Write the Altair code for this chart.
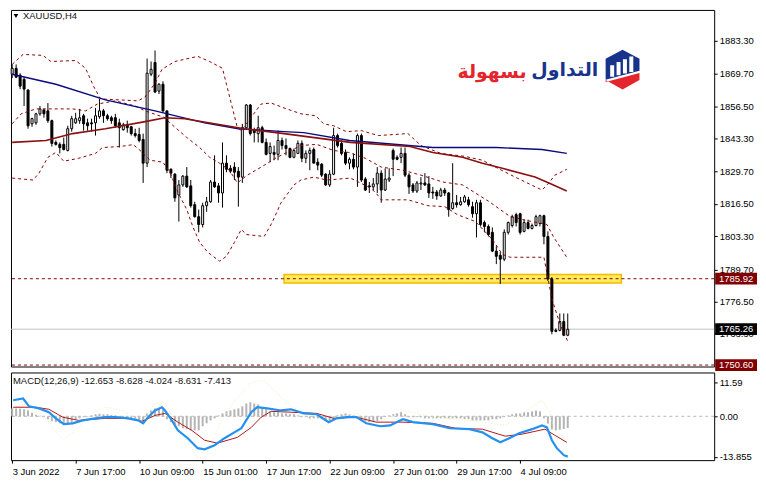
import altair as alt
import pandas as pd

# ---------------- price candles (XAUUSD H4) ----------------
opens = [1869.6, 1872.0, 1869.2, 1867.5, 1863.1, 1849.3, 1849.7, 1853.4, 1855.0, 1854.6,
         1850.6, 1841.7, 1840.9, 1840.9, 1838.4, 1847.3, 1849.7, 1850.6, 1852.6, 1849.7,
         1849.7, 1849.7, 1852.2, 1854.6, 1852.6, 1851.8, 1851.8, 1849.7, 1846.9, 1848.9,
         1848.1, 1845.3, 1844.9, 1842.9, 1833.2, 1869.6, 1874.4, 1862.7, 1865.5, 1854.6,
         1830.7, 1828.7, 1820.2, 1824.3, 1827.9, 1823.9, 1816.2, 1811.3, 1808.1, 1815.8,
         1817.4, 1825.5, 1823.9, 1821.0, 1833.2, 1831.1, 1831.6, 1829.9, 1827.5, 1847.7,
         1857.0, 1846.9, 1845.3, 1847.7, 1841.7, 1837.2, 1837.6, 1836.8, 1842.5, 1840.4,
         1839.2, 1835.6, 1837.2, 1841.3, 1835.2, 1837.2, 1838.8, 1833.6, 1832.8, 1828.7,
         1824.3, 1828.7, 1844.5, 1841.3, 1837.6, 1833.2, 1834.8, 1831.6, 1844.5, 1826.7,
         1823.9, 1823.5, 1824.7, 1829.1, 1822.2, 1826.3, 1838.4, 1835.6, 1835.6, 1837.2,
         1828.3, 1824.3, 1821.8, 1824.7, 1825.1, 1824.7, 1821.4, 1821.4, 1819.8, 1822.2,
         1821.0, 1814.6, 1817.0, 1816.2, 1817.4, 1818.2, 1815.4, 1812.5, 1817.0, 1808.9,
         1807.3, 1804.9, 1797.2, 1795.5, 1793.9, 1804.9, 1807.7, 1812.1, 1812.5, 1805.3,
         1808.9, 1806.5, 1807.7, 1808.5, 1811.7, 1803.2, 1785.8, 1764.8, 1764.8, 1768.4,
         1762.8]
highs = [1873.6, 1873.6, 1870.0, 1868.4, 1863.5, 1851.8, 1853.8, 1856.6, 1855.4, 1857.8,
         1851.0, 1842.5, 1841.7, 1843.7, 1848.5, 1852.6, 1853.8, 1855.4, 1853.4, 1851.4,
         1851.4, 1855.8, 1859.5, 1855.4, 1853.4, 1852.6, 1853.4, 1851.4, 1849.7, 1850.6,
         1848.5, 1847.3, 1847.7, 1845.3, 1876.0, 1874.8, 1879.3, 1865.9, 1866.7, 1854.6,
         1831.1, 1829.1, 1826.3, 1828.3, 1831.6, 1826.3, 1817.4, 1814.2, 1817.0, 1819.4,
         1826.3, 1836.4, 1825.1, 1841.7, 1836.4, 1832.4, 1833.6, 1831.6, 1849.3, 1857.4,
         1857.4, 1847.7, 1852.6, 1848.5, 1843.3, 1841.7, 1840.4, 1846.5, 1843.7, 1843.3,
         1839.6, 1839.2, 1842.5, 1842.5, 1838.4, 1839.6, 1839.6, 1835.2, 1833.2, 1829.1,
         1830.3, 1847.7, 1845.3, 1842.5, 1838.8, 1835.6, 1837.2, 1845.3, 1845.3, 1827.5,
         1825.5, 1827.1, 1831.6, 1830.3, 1831.1, 1831.1, 1839.2, 1836.4, 1839.6, 1839.6,
         1829.1, 1825.1, 1825.9, 1827.5, 1829.1, 1827.9, 1823.5, 1822.2, 1823.1, 1823.1,
         1821.4, 1833.2, 1820.2, 1819.4, 1820.2, 1819.4, 1817.4, 1818.2, 1818.2, 1809.7,
         1808.1, 1806.9, 1799.2, 1796.8, 1806.1, 1809.3, 1812.1, 1812.9, 1812.9, 1810.1,
         1810.1, 1808.5, 1812.1, 1812.1, 1812.1, 1805.3, 1786.6, 1765.6, 1771.7, 1771.7,
         1771.7]
lows = [1868.0, 1868.0, 1863.5, 1856.6, 1847.3, 1848.1, 1848.9, 1852.6, 1851.8, 1849.7,
        1840.0, 1840.4, 1837.2, 1838.4, 1838.0, 1846.1, 1849.3, 1849.3, 1846.5, 1846.5,
        1846.1, 1844.5, 1851.4, 1849.7, 1850.6, 1849.3, 1847.7, 1839.6, 1846.5, 1845.7,
        1844.5, 1843.7, 1841.7, 1825.1, 1831.6, 1868.8, 1861.9, 1861.5, 1853.8, 1829.1,
        1827.1, 1817.4, 1809.3, 1823.5, 1823.1, 1815.0, 1810.9, 1804.9, 1806.9, 1813.3,
        1817.0, 1823.1, 1817.0, 1815.0, 1829.5, 1829.1, 1826.3, 1815.4, 1825.1, 1847.3,
        1844.5, 1841.7, 1841.7, 1841.3, 1836.4, 1833.6, 1834.4, 1834.4, 1838.8, 1836.4,
        1835.2, 1835.2, 1837.2, 1833.6, 1833.2, 1830.3, 1833.2, 1830.3, 1827.5, 1823.9,
        1823.5, 1828.3, 1839.6, 1836.4, 1832.4, 1830.7, 1830.7, 1823.5, 1825.5, 1821.8,
        1821.0, 1822.2, 1821.0, 1817.0, 1821.8, 1825.5, 1827.9, 1834.4, 1833.2, 1827.5,
        1820.6, 1821.0, 1821.0, 1822.2, 1823.9, 1819.0, 1818.6, 1818.2, 1819.4, 1819.8,
        1811.3, 1814.2, 1815.0, 1815.8, 1817.0, 1815.4, 1810.9, 1802.8, 1807.3, 1804.9,
        1803.2, 1796.8, 1791.9, 1783.8, 1793.1, 1804.0, 1806.9, 1807.3, 1804.0, 1804.9,
        1806.1, 1806.1, 1807.3, 1807.3, 1800.0, 1785.0, 1763.2, 1764.0, 1764.4, 1762.4,
        1762.4]
closes = [1872.0, 1868.4, 1864.7, 1863.5, 1848.5, 1851.4, 1853.4, 1855.4, 1853.4, 1850.6,
          1841.3, 1840.9, 1839.6, 1838.8, 1847.3, 1851.4, 1851.4, 1851.8, 1849.3, 1848.5,
          1849.3, 1852.6, 1854.6, 1852.6, 1851.4, 1850.6, 1848.5, 1847.7, 1848.9, 1847.7,
          1845.3, 1844.5, 1842.5, 1833.2, 1870.0, 1871.6, 1862.3, 1865.5, 1854.6, 1830.3,
          1829.1, 1819.0, 1824.3, 1827.9, 1823.5, 1815.8, 1811.3, 1808.1, 1815.8, 1817.4,
          1825.5, 1823.5, 1821.0, 1833.2, 1830.7, 1829.9, 1829.5, 1827.5, 1847.7, 1857.0,
          1845.3, 1845.7, 1847.7, 1841.7, 1836.8, 1840.0, 1836.8, 1842.5, 1840.4, 1839.2,
          1835.6, 1838.4, 1841.3, 1835.2, 1837.2, 1838.4, 1833.2, 1832.4, 1828.3, 1824.3,
          1828.7, 1844.5, 1840.4, 1837.2, 1833.2, 1834.8, 1831.6, 1844.5, 1826.3, 1822.2,
          1823.5, 1824.7, 1829.1, 1822.2, 1826.7, 1827.1, 1834.8, 1834.8, 1837.2, 1828.3,
          1823.5, 1821.8, 1825.1, 1825.1, 1824.3, 1821.0, 1821.0, 1819.8, 1822.2, 1821.0,
          1814.2, 1817.0, 1816.2, 1817.4, 1819.4, 1816.2, 1812.5, 1817.0, 1808.1, 1807.3,
          1804.0, 1797.2, 1795.1, 1793.9, 1804.9, 1808.9, 1811.3, 1808.9, 1804.9, 1808.9,
          1806.5, 1807.7, 1811.3, 1811.7, 1803.2, 1785.8, 1764.4, 1764.4, 1768.4, 1762.8,
          1765.26]

# ---------------- moving averages and Bollinger bands ----------------
blue_ma_i = [0, 11, 23.5, 36, 48.5, 57, 68.5, 73.5, 85, 106, 122, 133.5, 139.75]
blue_ma_p = [1869.6, 1865.5, 1859.1, 1854.6, 1849.7, 1847.3, 1846.1, 1845.7, 1842.5,
             1839.6, 1839.6, 1838.8, 1837.2]
red_ma_i = [0, 8.5, 15.25, 23.5, 33.5, 38.5, 43.5, 51, 58.5, 68.5, 85.25, 100.25, 106,
            113.5, 118.5, 123.5, 131.75, 135.25, 139.75]
red_ma_p = [1841.7, 1842.5, 1845.3, 1847.3, 1850.2, 1851.8, 1851.4, 1849.3, 1847.3, 1845.3,
            1841.7, 1840.0, 1837.6, 1835.6, 1833.2, 1831.1, 1827.5, 1825.1, 1821.8]
bb_up_i = [0, 2.75, 7.75, 9.75, 16, 18.5, 20.5, 22.25, 31.75, 33.5, 36, 37.75, 41, 46.75,
           49.75, 53, 54, 55.5, 56.75, 57.75, 60.5, 62.75, 65.25, 68.5, 72.75, 76.5, 78.5,
           81, 84.25, 88, 92.25, 99.75, 103, 108, 114, 118.5, 121.75, 126.75, 133.5,
           135.25, 136.75, 139.75]
bb_up_p = [1873.6, 1877.7, 1877.3, 1874.8, 1875.2, 1872.0, 1864.7, 1859.5, 1858.7, 1860.3,
           1865.9, 1871.6, 1874.8, 1876.9, 1874.8, 1872.0, 1865.5, 1855.8, 1847.7, 1846.5,
           1852.6, 1857.4, 1857.8, 1855.8, 1853.4, 1852.6, 1849.3, 1848.5, 1846.1, 1846.5,
           1844.5, 1845.3, 1840.4, 1837.2, 1836.0, 1834.4, 1831.6, 1827.5, 1822.2, 1825.1,
           1828.3, 1830.7]
bb_mid_i = [0, 2.25, 6, 15.25, 18.5, 21.5, 26, 31, 33.5, 38.5, 39.75, 44, 47.25, 49.75,
            52.25, 54.75, 56.75, 59.25, 62.75, 66.75, 69.25, 72.75, 76.75, 81, 84.75, 89,
            93, 98.5, 103, 108.5, 113.5, 120.25, 125.5, 131, 134.75, 136.5, 139.75]
bb_mid_p = [1849.3, 1853.4, 1855.4, 1855.4, 1854.6, 1857.4, 1858.7, 1856.6, 1854.6, 1851.8,
            1849.7, 1843.7, 1839.6, 1835.6, 1833.2, 1830.3, 1825.1, 1828.3, 1831.6, 1835.6,
            1837.6, 1840.4, 1840.9, 1838.4, 1837.6, 1835.2, 1831.6, 1830.3, 1828.3, 1825.5,
            1824.3, 1817.4, 1811.3, 1809.3, 1808.1, 1802.8, 1794.7]
bb_lo_i = [0, 5.25, 6.75, 9, 11, 13, 16.75, 21, 22.75, 27.25, 30.5, 32.25, 34.75, 38,
           39.75, 41.75, 44, 45.5, 47.25, 49.25, 52.25, 54, 56, 57.75, 59, 63.5, 65.5,
           67.75, 71, 72.75, 76, 79.25, 85.25, 89.75, 91.5, 93, 99.75, 104.75, 109, 112.25,
           116.75, 121, 123.5, 125.5, 134, 136, 138, 140]
bb_lo_p = [1827.1, 1826.3, 1829.1, 1835.6, 1837.6, 1834.0, 1835.2, 1837.2, 1839.6, 1840.0,
           1840.8, 1838.4, 1834.4, 1833.6, 1829.5, 1821.4, 1814.2, 1807.3, 1800.8, 1796.8,
           1793.1, 1795.1, 1800.8, 1806.1, 1804.0, 1803.2, 1808.9, 1817.0, 1824.3, 1826.3,
           1827.5, 1826.3, 1827.1, 1823.5, 1821.4, 1818.2, 1818.2, 1815.8, 1815.4, 1812.1,
           1809.3, 1802.0, 1795.9, 1794.7, 1794.7, 1777.7, 1767.6, 1760.3]

# ---------------- levels ----------------
level_values = [1785.92, 1750.60]
current_price = [1765.26]
zone_i = [68.5, 153.5]
zone_p = [1784.2, 1787.6]
price_ticks = [1883.30, 1869.70, 1856.50, 1843.30, 1829.70, 1816.50, 1803.30, 1789.70,
               1776.50, 1763.30]
tag_values = [1785.92, 1765.26, 1750.60]
tag_text = ["1785.92", "1765.26", "1750.60"]
tag_colors = ["#800000", "#000000", "#800000"]

# ---------------- MACD panel ----------------
macd_i = [0.25, 2.75, 4.25, 6.75, 9.25, 11, 13, 15.25, 17.75, 21, 23.5, 26, 29.25, 31.75,
          33, 34.25, 36, 37.75, 38.5, 40.25, 41.75, 44.25, 46.75, 48.5, 51, 53.5, 56,
          57.75, 58.5, 60.25, 61.75, 64.25, 67.75, 70.25, 73.5, 76.75, 79.75, 81.75, 84.25,
          86.75, 89.25, 92.75, 95.25, 97.75, 98.5, 101, 106, 110.25, 115.25, 118.5, 121,
          123, 125.25, 127.75, 131, 133.5, 134.75, 136, 137.25, 139, 140]
macd_v = [5.5, 6.1, 3.4, 2.7, 1.4, -0.7, -2.7, -2.4, -1.4, -0.7, -0.3, -0.3, -0.7, -1.4,
          -2.4, -0.3, 2.0, 3.1, 2.0, -1.4, -4.8, -7.5, -10.9, -11.3, -9.9, -7.5, -5.5, -4.1,
          -2.4, 1.4, 3.1, 2.7, 2.0, 2.4, 1.0, 0.7, -2.0, -0.7, -0.3, -0.3, -2.4, -3.4, -3.1,
          -1.4, -1.0, -2.0, -2.7, -4.1, -4.4, -5.5, -7.5, -8.9, -7.5, -5.8, -4.4, -3.1,
          -3.8, -8.2, -10.9, -13.3, -13.8]
signal_i = [0.25, 6, 9.25, 12.75, 16.75, 23.5, 29.25, 32.75, 36, 38.5, 41.75, 45.25, 48.5,
            51.75, 56.75, 60.25, 62.75, 65.25, 70.25, 76.75, 81, 86.75, 91.75, 96.75, 98.5,
            106, 111.75, 118.5, 124.25, 128.5, 134.25, 136.75, 139.75]
signal_v = [3.1, 3.1, 2.4, -0.3, -1.4, -0.7, -0.7, -1.7, 0.3, 1.0, -2.0, -4.8, -8.2, -9.2,
            -7.2, -3.8, -0.3, 1.7, 1.4, 1.0, -0.7, -0.3, -2.0, -2.0, -2.0, -2.4, -4.1, -4.4,
            -6.8, -6.1, -4.4, -6.5, -8.9]
hist_v = [2.7, 2.7, 2.6, 2.4, 2.0, 1.2, 0.5, 0.2,
          -0.3, -1.0, -1.7, -2.0, -2.4, -2.7, -2.7, -2.4,
          -1.0, -0.7, -0.3, -0.2,
          0.3, 0.7, 0.9, 0.7, 0.7, 0.5, 0.3,
          -0.3, -0.7, -1.0, -1.0, -1.4, -1.7, -2.0,
          1.0, 2.0, 2.7, 2.7, 2.4,
          -1.0, -2.0, -2.7, -3.4, -4.1, -4.4, -4.8, -4.8, -4.8,
          -3.4, -2.4, -1.4, -0.7, 0.3, 1.0,
          1.7, 2.0, 2.4, 2.7, 3.4, 4.4, 4.8,
          4.4, 4.1, 3.1, 2.4,
          1.7, 1.4, 1.4, 1.0, 1.0, 0.7, 0.7, 0.3,
          -0.3, -0.3, -0.7, -0.7, -0.7, -1.0,
          -1.7, -2.0, -1.4,
          0.3, 0.7, 1.0, 0.7, 0.3,
          -0.7, -1.4, -1.7, -2.0, -2.0, -1.7,
          -1.0, -0.3, 0.3, 0.7,
          1.0, 1.4, 0.7,
          -0.3, -0.3, -0.3, -0.3, -0.7, -0.7, -0.7, -0.7, -0.7, -0.7, -0.7,
          -0.7, -0.7, -0.7, -1.0, -1.0, -1.4, -1.4, -1.4,
          -1.4, -1.4, -1.0, -1.0, -0.7, -0.3,
          0.3, 0.7, 1.0, 1.0, 1.4, 1.4, 1.7, 2.0, 1.7,
          -0.7, -2.5, -4.5, -4.8, -4.6, -4.3, -4.0]
yel_i = [0.25, 3.5, 8.5, 12.75, 15.25, 20.25, 23.5, 27.75, 32.75, 36, 38.5, 41.75, 46.75,
         48.5, 52.75, 56.75, 60.25, 63.5, 68.5, 73.5, 78.5, 81.75, 86.75, 91.75, 98.5, 106,
         118.5, 124.25, 133.5, 135.25, 136.75, 140]
yel_v = [2.7, 4.4, -0.7, -8.2, -5.5, 1.0, 3.1, 2.0, -2.0, 4.4, 4.8, -3.8, -14.0, -14.3,
         -1.4, 6.5, 11.6, 12.3, 5.5, 0.3, -3.8, -0.3, 1.0, -2.4, 2.0, -0.3, -2.0, -3.1, 5.5,
         2.0, -4.8, -9.2]
macd_ticks = [11.59, 0.0, -13.855]

date_ticks = [0, 16, 32, 48, 64, 80, 96, 112, 128]
date_labels = ["3 Jun 2022", "7 Jun 17:00", "10 Jun 09:00", "15 Jun 01:00", "17 Jun 17:00",
               "22 Jun 09:00", "27 Jun 01:00", "29 Jun 17:00", "4 Jul 09:00"]

# ======================================================================
FONT = "Liberation Sans"
W = 706
XS = alt.Scale(domain=[-0.3, 176.9], nice=False, zero=False, padding=0)
YS = alt.Scale(domain=[1750.0, 1895.9], nice=False, zero=False, padding=0)
MS = alt.Scale(domain=[-15.0, 15.0], nice=False, zero=False, padding=0)
TAG_X = 728

yax = alt.Axis(orient="right", values=price_ticks, format=".2f", title=None, grid=False,
               domain=False, tickSize=3, tickColor="black", labelColor="black",
               labelFont=FONT, labelFontSize=9.5, labelPadding=2)
xnone = alt.X("i:Q", scale=XS, axis=None)


def Yp(field):
    return alt.Y(field, type="quantitative", scale=YS, axis=yax)


n = len(opens)
cdf = pd.DataFrame({"i": list(range(n)), "o": opens, "h": highs, "l": lows, "c": closes})
cdf["dir"] = ["up" if c >= o else "down" for o, c in zip(opens, closes)]


def series(ix, vals):
    return pd.DataFrame({"i": ix, "p": vals})


zone = alt.Chart(pd.DataFrame({"a": [zone_i[0]], "b": [zone_i[1]],
                               "p1": [zone_p[0]], "p2": [zone_p[1]]})).mark_rect(
    fill="#FFEC5C", stroke="#F2BC00", strokeWidth=1.5
).encode(x=alt.X("a:Q", scale=XS, axis=None), x2="b:Q", y=Yp("p1"), y2="p2:Q")

cur_line = alt.Chart(pd.DataFrame({"p": current_price})).mark_rule(
    color="#C0C0C0", strokeWidth=1).encode(y=Yp("p"))

level_lines = alt.Chart(pd.DataFrame({"p": level_values})).mark_rule(
    color="#8B0000", strokeWidth=1, strokeDash=[3, 3]).encode(y=Yp("p"))

wicks = alt.Chart(cdf).mark_rule(color="black", strokeWidth=1).encode(
    x=xnone, y=Yp("l"), y2="h:Q")
bodies = alt.Chart(cdf).mark_bar(size=2, stroke="black", strokeWidth=1).encode(
    x=xnone, y=Yp("o"), y2="c:Q",
    fill=alt.Fill("dir:N", scale=alt.Scale(domain=["up", "down"], range=["white", "black"]),
                  legend=None))


def band(ix, vals):
    return alt.Chart(series(ix, vals)).mark_line(
        color="#8B0000", strokeWidth=1, strokeDash=[3, 3]).encode(x=xnone, y=Yp("p"))


bands = [band(bb_up_i, bb_up_p), band(bb_mid_i, bb_mid_p), band(bb_lo_i, bb_lo_p)]

blue_ma = alt.Chart(series(blue_ma_i, blue_ma_p)).mark_line(
    color="#0A0A80", strokeWidth=1.4).encode(x=xnone, y=Yp("p"))
red_ma = alt.Chart(series(red_ma_i, red_ma_p)).mark_line(
    color="#8B1010", strokeWidth=1.6).encode(x=xnone, y=Yp("p"))

BOX = "M-1,-0.28L1,-0.28L1,0.28L-1,0.28Z"
tags = pd.DataFrame({"p": tag_values, "t": tag_text, "bg": tag_colors})
tag_box = alt.Chart(tags).mark_point(shape=BOX, size=1764, filled=True, opacity=1,
                                     strokeWidth=0).encode(
    x=alt.value(TAG_X), y=Yp("p"), color=alt.Color("bg:N", scale=None))
tag_txt = alt.Chart(tags).mark_text(color="white", font=FONT, fontSize=9.5,
                                    align="center", baseline="middle").encode(
    x=alt.value(TAG_X), y=Yp("p"), text="t:N")

title_tri = alt.Chart(pd.DataFrame({"t": ["x"]})).mark_point(
    shape="triangle-down", filled=True, color="black", size=22, opacity=1).encode(
    x=alt.value(5), y=alt.value(6))
title_txt = alt.Chart(pd.DataFrame({"t": ["XAUUSD,H4"]})).mark_text(
    align="left", baseline="middle", font=FONT, fontSize=9.5, color="#111111").encode(
    x=alt.value(12), y=alt.value(6), text="t:N")

# logo
logo_red = alt.Chart(pd.DataFrame({"t": ["بسهولة"]})).mark_text(
    font="DejaVu Sans", fontSize=19, fontWeight="bold", color="#E3262E",
    align="center", baseline="middle").encode(x=alt.value(483), y=alt.value(62), text="t:N")
logo_blue = alt.Chart(pd.DataFrame({"t": ["التداول"]})).mark_text(
    font="DejaVu Sans", fontSize=19, fontWeight="bold", color="#17338C",
    align="center", baseline="middle").encode(x=alt.value(556), y=alt.value(60), text="t:N")
HEX_BLUE = "M0,-1L0.85,-0.55L0.85,0.05L-0.85,0.5L-0.85,-0.55Z"
HEX_RED = "M-0.85,0.62L0.85,0.17L0.85,0.52L0,1L-0.85,0.52Z"
BARS = ("M-0.62,-0.22L-0.42,-0.22L-0.42,0.36L-0.62,0.36Z"
        "M-0.3,-0.38L-0.1,-0.38L-0.1,0.28L-0.3,0.28Z"
        "M0.02,-0.52L0.22,-0.52L0.22,0.19L0.02,0.19Z"
        "M0.34,-0.66L0.54,-0.66L0.54,0.11L0.34,0.11Z")
logo_df = pd.DataFrame({"t": ["x"]})
icon = [alt.Chart(logo_df).mark_point(shape=s, size=1600, filled=True, opacity=1,
                                      strokeWidth=0, color=col).encode(
    x=alt.value(614), y=alt.value(60)) for s, col in
    [(HEX_BLUE, "#17338C"), (HEX_RED, "#E3262E"), (BARS, "white")]]

main = alt.layer(zone, cur_line, level_lines, wicks, bodies, *bands, blue_ma, red_ma,
                 tag_box, tag_txt, title_tri, title_txt, logo_red, logo_blue, *icon
                 ).properties(width=W, height=358)

# ---------------- MACD ----------------
label_expr = " : ".join(
    f"datum.value == {t} ? '{s}'" for t, s in zip(date_ticks, date_labels)) + " : ''"
xax = alt.Axis(values=date_ticks, labelExpr=label_expr, title=None, grid=False, domain=False,
               tickSize=3, tickColor="black", labelColor="black", labelFont=FONT,
               labelFontSize=9.5, labelAlign="left", labelPadding=3, labelOverlap=False,
               labelFlush=False)
macd_lab = "datum.value == 0 ? '0.00' : datum.value < -13 ? '-13.855' : format(datum.value, '.2f')"
max_ = alt.Axis(orient="right", values=macd_ticks, labelExpr=macd_lab, title=None,
                grid=False, domain=False, tickSize=3, tickColor="black", labelColor="black",
                labelFont=FONT, labelFontSize=9.5, labelPadding=2)


def Ym(field):
    return alt.Y(field, type="quantitative", scale=MS, axis=max_)


xm = alt.X("i:Q", scale=XS, axis=xax)

hdf = pd.DataFrame({"i": list(range(len(hist_v))), "v": hist_v, "z": [0.0] * len(hist_v)})
hist = alt.Chart(hdf).mark_bar(size=2, color="#B4B4B4").encode(x=xm, y=Ym("v"), y2="z:Q")
zero = alt.Chart(pd.DataFrame({"v": [0.0]})).mark_rule(
    color="#B8B8B8", strokeDash=[3, 3], strokeWidth=1).encode(y=Ym("v"))
yel = alt.Chart(pd.DataFrame({"i": yel_i, "v": yel_v})).mark_line(
    color="#EDEDB4", strokeWidth=1, strokeDash=[1, 2]).encode(x=xm, y=Ym("v"))
sig = alt.Chart(pd.DataFrame({"i": signal_i, "v": signal_v})).mark_line(
    color="#B01818", strokeWidth=1).encode(x=xm, y=Ym("v"))
mac = alt.Chart(pd.DataFrame({"i": macd_i, "v": macd_v})).mark_line(
    color="#2490F0", strokeWidth=2.2).encode(x=xm, y=Ym("v"))
mtitle = alt.Chart(pd.DataFrame({"t": ["MACD(12,26,9) -12.653 -8.628 -4.024 -8.631 -7.413"]})
                   ).mark_text(align="left", baseline="middle", font=FONT, fontSize=9.5,
                               color="#111111").encode(x=alt.value(2), y=alt.value(9),
                                                       text="t:N")

macd = alt.layer(hist, zero, yel, sig, mac, mtitle).properties(width=W, height=88)

chart = alt.vconcat(main, macd, spacing=6, bounds="flush").properties(
    padding={"left": 0, "top": 0, "right": 0, "bottom": 0},
    background="white"
).configure_view(stroke="black", strokeWidth=1)

chart.save("out.html", embed_options={"renderer": "svg", "actions": False})
